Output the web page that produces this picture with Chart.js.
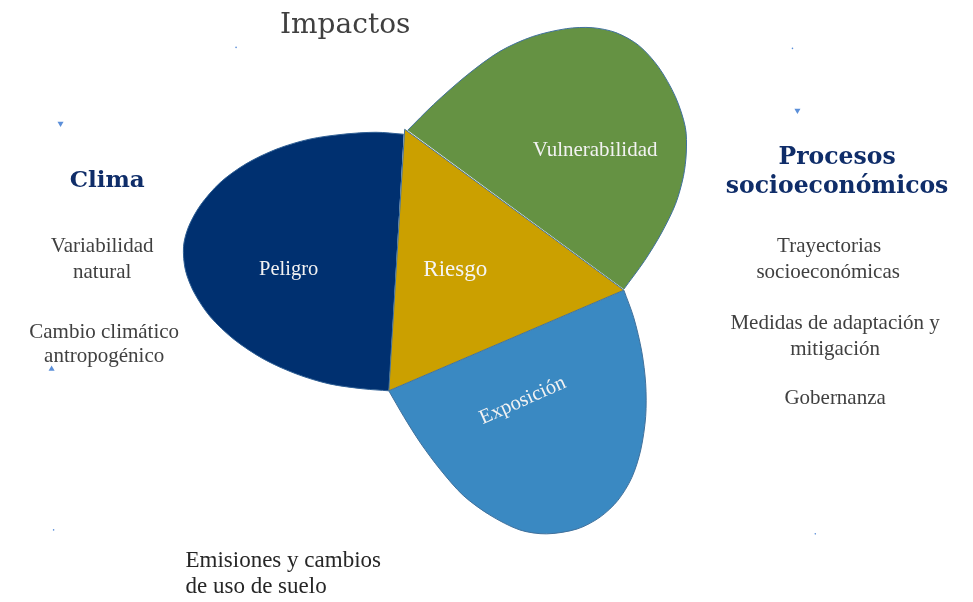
<!DOCTYPE html>
<html>
<head>
<meta charset="utf-8">
<script src="https://cdn.jsdelivr.net/npm/chart.js@4.4.1/dist/chart.umd.min.js"></script>
<style>
  html, body { margin: 0; padding: 0; background: #fff; }
  canvas { display: block; }
</style>
</head>
<body>
<canvas id="diagram" width="973" height="602"></canvas>
<script>
// outline points (x right, y down)
var riesgoX = [404, 625, 388, 404];
var riesgoY = [127, 290, 392, 127];

var peligroX = [403, 375, 342, 308, 275, 244, 218, 198, 186, 181, 183, 192, 208, 232, 262, 295, 328, 362, 388];
var peligroY = [132, 130, 132, 137, 147, 162, 181, 204, 226, 246, 270, 293, 317, 340, 360, 375, 385, 390, 392];

var vulnerabilidadX = [407, 433, 467, 500, 533, 567, 593, 617, 640, 660, 677, 687, 688, 685, 677, 663, 646, 625];
var vulnerabilidadY = [128, 102, 72, 48, 33, 25, 24, 29, 42, 64, 94, 125, 150, 175, 203, 232, 260, 289];

var exposicionX = [625, 635, 643, 647, 647, 642, 633, 619, 601, 578, 547, 520, 490, 463, 440, 420, 403, 388];
var exposicionY = [290, 318, 352, 385, 418, 452, 480, 503, 520, 532, 537, 533, 518, 498, 472, 445, 418, 392];

// little marker glyphs scattered round the figure
var markerX = [57, 800, 48, 234, 795, 50, 818];
var markerY = [121, 108, 370, 44, 45, 533, 537];
var markerKind = ['down', 'down', 'up', 'dot', 'dot', 'dot', 'dot'];

function pts(xs, ys) {
  return xs.map(function (x, i) { return { x: x, y: ys[i] }; });
}

var serif = '"Liberation Serif", "DejaVu Serif", serif';
var slab = '"DejaVu Serif", serif';
var notes = [
  { text: 'Impactos', x: 344, y: 22, size: 28, color: '#404040', font: slab },
  { text: 'Clima', x: 104, y: 179, size: 23, color: '#0f2d69', bold: true },
  { text: 'Procesos', x: 840, y: 156, size: 23.5, color: '#0f2d69', bold: true },
  { text: 'socioeconómicos', x: 840, y: 185, size: 23.5, color: '#0f2d69', bold: true },
  { text: 'Variabilidad', x: 99, y: 246, size: 21, color: '#404040' },
  { text: 'natural', x: 99, y: 272, size: 21, color: '#404040' },
  { text: 'Cambio climático', x: 101, y: 333, size: 21, color: '#404040' },
  { text: 'antropogénico', x: 101, y: 357, size: 21, color: '#404040' },
  { text: 'Trayectorias', x: 832, y: 246, size: 21, color: '#404040' },
  { text: 'socioeconómicas', x: 831, y: 272, size: 21, color: '#404040' },
  { text: 'Medidas de adaptación y', x: 838, y: 324, size: 21, color: '#404040' },
  { text: 'mitigación', x: 838, y: 350, size: 21, color: '#404040' },
  { text: 'Gobernanza', x: 838, y: 400, size: 21, color: '#404040' },
  { text: 'Emisiones y cambios', x: 183, y: 564, size: 23, color: '#262626', align: 'left' },
  { text: 'de uso de suelo', x: 183, y: 591, size: 23, color: '#262626', align: 'left' },
  { text: 'Peligro', x: 287, y: 269, size: 20.5, color: '#f2f2f2' },
  { text: 'Riesgo', x: 455, y: 270, size: 23, color: '#f5f5f5' },
  { text: 'Vulnerabilidad', x: 596, y: 148, size: 21, color: '#f2f2f2' },
  { text: 'Exposición', x: 523, y: 402, size: 20.5, color: '#f2f2f2', angle: -24 }
];

// fills each outline as a closed shape, using the line's own spline path
var areaFill = {
  id: 'areaFill',
  beforeDatasetDraw: function (chart, args) {
    var ds = chart.data.datasets[args.index];
    if (!ds.areaColor) return;
    var line = args.meta.dataset;
    var ctx = chart.ctx;
    line.updateControlPoints(chart.chartArea, 'x');
    ctx.save();
    ctx.beginPath();
    line.path(ctx);
    ctx.closePath();
    ctx.fillStyle = ds.areaColor;
    ctx.fill();
    ctx.restore();
  }
};

var textLayer = {
  id: 'textLayer',
  afterDatasetsDraw: function (chart) {
    var ctx = chart.ctx;
    var sx = chart.scales.x, sy = chart.scales.y;
    notes.forEach(function (n) {
      ctx.save();
      ctx.translate(sx.getPixelForValue(n.x), sy.getPixelForValue(n.y));
      if (n.angle) ctx.rotate(n.angle * Math.PI / 180);
      ctx.font = (n.bold ? 'bold ' : '') + n.size + 'px ' + (n.font || (n.bold ? slab : serif));
      ctx.fillStyle = n.color;
      ctx.textAlign = n.align || 'center';
      ctx.textBaseline = 'middle';
      ctx.fillText(n.text, 0, 0);
      ctx.restore();
    });
  }
};

var outline = '#41719c';

new Chart(document.getElementById('diagram'), {
  type: 'scatter',
  data: {
    datasets: [
      {
        label: 'Riesgo', data: pts(riesgoX, riesgoY), order: 0,
        showLine: true, tension: 0, areaColor: '#cba000',
        borderColor: outline, borderWidth: 1, pointRadius: 0
      },
      {
        label: 'Peligro', data: pts(peligroX, peligroY), order: 1,
        showLine: true, tension: 0.3, areaColor: '#003070',
        borderColor: '#2f5f94', borderWidth: 1, pointRadius: 0
      },
      {
        label: 'Vulnerabilidad', data: pts(vulnerabilidadX, vulnerabilidadY), order: 2,
        showLine: true, tension: 0.3, areaColor: '#659243',
        borderColor: outline, borderWidth: 1, pointRadius: 0
      },
      {
        label: 'Exposición', data: pts(exposicionX, exposicionY), order: 3,
        showLine: true, tension: 0.3, areaColor: '#3a89c2',
        borderColor: outline, borderWidth: 1, pointRadius: 0
      },
      {
        label: 'marcas', data: pts(markerX, markerY), order: 4,
        pointStyle: markerKind.map(function (k) { return k === 'dot' ? 'circle' : 'triangle'; }),
        rotation: markerKind.map(function (k) { return k === 'down' ? 180 : 0; }),
        pointRadius: markerKind.map(function (k) { return k === 'dot' ? 0.8 : 3.5; }),
        backgroundColor: '#5b8fd9', borderWidth: 0
      }
    ]
  },
  options: {
    responsive: false,
    animation: false,
    layout: { padding: 0 },
    scales: {
      x: { type: 'linear', min: 0, max: 973, display: false },
      y: { type: 'linear', min: 0, max: 602, reverse: true, display: false }
    },
    plugins: {
      legend: { display: false },
      tooltip: { enabled: false }
    }
  },
  plugins: [areaFill, textLayer]
});
</script>
</body>
</html>
